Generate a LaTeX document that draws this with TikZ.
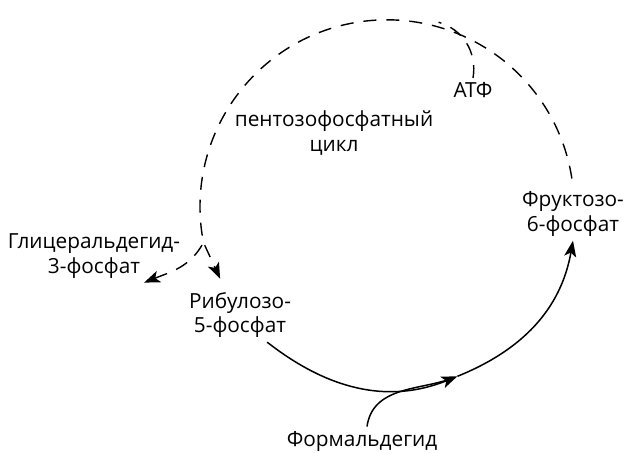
\documentclass[tikz,border=0pt]{standalone}
\usepackage{fontspec}
\setmainfont{Open Sans}
\usetikzlibrary{arrows.meta}

\begin{document}
\begin{tikzpicture}[x=0.5pt, y=0.5pt, >={Stealth[length=8pt, width=6pt, inset=2pt]},
  every node/.style={align=center, font=\fontsize{10.4}{12.3}\selectfont, inner sep=2pt},
  cycle/.style={line width=0.7pt, dash pattern=on 6.5pt off 5pt},
  reaction/.style={line width=0.75pt}]
  \useasboundingbox (0,0) rectangle (628,452);

  % Metabolites and labels
  \node (fru) at (573,238) {Фруктозо-\\6-фосфат};
  \node (rib) at (240,137) {Рибулозо-\\5-фосфат};
  \node (gly) at (94,196) {Глицеральдегид-\\3-фосфат};
  \node (form) at (362,11) {Формальдегид};
  \node (atp) at (473,362) {АТФ};
  \node (ppc) at (334,319) {пентозофосфатный\\цикл};

  \coordinate (centre) at (387,250);
  \coordinate (atpjoin) at ([shift={(74:187)}]centre);
  \coordinate (mid) at ([shift={(-68:188)}]centre);
  \path (fru.north) arc[start angle=6, end angle=191, radius=187] coordinate (fork);

  % Dashed: pentose phosphate cycle
  \draw[cycle, dash phase=8pt] (fork) arc[start angle=191, end angle=6, radius=187];
  \draw[cycle] (atp.north) to[out=80, in=-16] (atpjoin);
  \draw[cycle, ->, dash phase=10pt] (fork) to[out=-118, in=22] (gly.-28);
  \draw[cycle, ->, dash phase=10pt, shorten >=5pt] (fork) -- (rib.120);

  % Solid: formaldehyde fixation
  \draw[reaction, shorten >=4pt] ([xshift=2.5pt]form.north) to[out=82, in=200] (mid);
  \draw[reaction, ->] (rib.-45) to[out=-38, in=202] (mid);
  \draw[reaction, ->] (mid) to[out=22, in=-100] (fru.south);
\end{tikzpicture}
\end{document}
